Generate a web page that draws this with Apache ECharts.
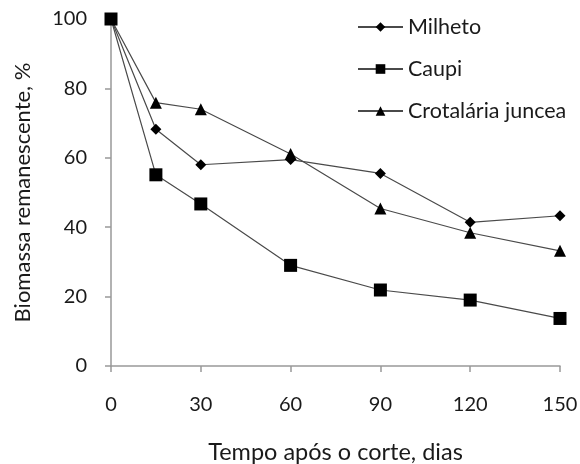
<!DOCTYPE html>
<html><head><meta charset="utf-8">
<script src="https://cdn.jsdelivr.net/npm/echarts@6/dist/echarts.min.js"></script>
<style>html,body{margin:0;padding:0;background:#fff}#c{width:580px;height:464px}</style>
</head><body><div id="c"></div>
<script>
var days = [0, 15, 30, 60, 90, 120, 150];
var milheto = [100, 68.2, 58.0, 59.5, 55.5, 41.4, 43.3];
var caupi = [100, 55.1, 46.7, 29.0, 21.9, 19.0, 13.7];
var crotalaria = [100, 75.9, 74.0, 61.1, 45.4, 38.4, 33.2];
var xTicks = [0, 30, 60, 90, 120, 150];
var yTicks = [0, 20, 40, 60, 80, 100];

function pairs(v){ return days.map(function(d,i){ return [d, v[i]]; }); }
var font = 'Lato';
var chart = echarts.init(document.getElementById('c'), null, {renderer:'canvas'});
var lineStyle = {color:'#4a4a4a', width:1.2};
function ser(name, data, symbol, size){
  return {name:name, type:'line', data:pairs(data), symbol:symbol, symbolSize:size,
    lineStyle:lineStyle, itemStyle:{color:'#000'}, emphasis:{disabled:true}, animation:false, z: 2};
}
chart.setOption({
  animation:false,
  textStyle:{fontFamily:font},
  grid:{left:111, right:20, top:19, bottom:98, containLabel:false, outerBoundsMode:'none'},
  legend:{
    orient:'vertical', left:357, top:16, padding:0, itemWidth:45, itemHeight:12, itemGap:20,
    textStyle:{fontFamily:font, fontSize:21.5, lineHeight:22, color:'#1a1a1a'},
    data:['Milheto','Caupi','Crotalária juncea']
  },
  xAxis:{
    type:'value', min:0, max:150, interval:30,
    name:'Tempo após o corte, dias', nameLocation:'middle', nameGap:74,
    nameTextStyle:{fontFamily:font, fontSize:23.5, color:'#1a1a1a'},
    axisLine:{show:true, lineStyle:{color:'#999', width:1.5}},
    axisTick:{show:true, length:6, lineStyle:{color:'#999', width:1.5}},
    axisLabel:{fontFamily:font, fontSize:20, color:'#1a1a1a', margin:29,
      formatter:function(v){ return xTicks.indexOf(v)>=0 ? String(v) : ''; }},
    splitLine:{show:false}
  },
  yAxis:{
    type:'value', min:0, max:100, interval:20,
    name:'Biomassa remanescente, %', nameLocation:'middle', nameGap:77,
    nameTextStyle:{fontFamily:font, fontSize:22, color:'#1a1a1a'},
    axisLine:{show:true, lineStyle:{color:'#999', width:1.5}},
    axisTick:{show:true, length:6, lineStyle:{color:'#999', width:1.5}},
    axisLabel:{fontFamily:font, fontSize:20, color:'#1a1a1a', margin:24,
      formatter:function(v){ return yTicks.indexOf(v)>=0 ? String(v) : ''; }},
    splitLine:{show:false}
  },
  series:[
    ser('Milheto', milheto, 'diamond', 11),
    ser('Caupi', caupi, 'rect', 13),
    ser('Crotalária juncea', crotalaria, 'triangle', 12)
  ]
});
</script></body></html>
